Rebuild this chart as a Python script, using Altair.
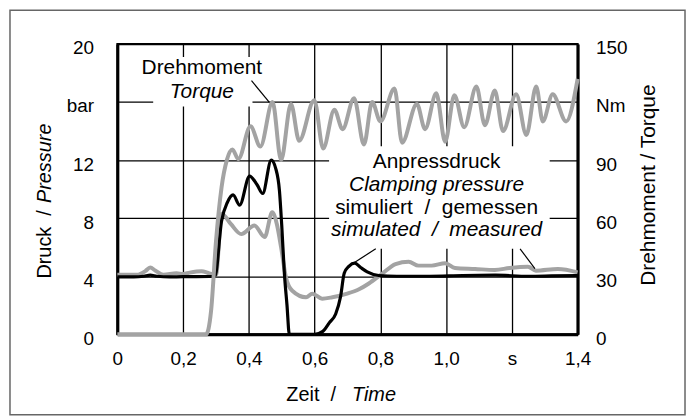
import altair as alt
import pandas as pd

FONT = "Liberation Sans"
NB = "\u00a0"

# ---- data ----
# simulated clamping pressure (bar)
sim_t = [0.0, 0.05, 0.08, 0.10, 0.12, 0.16, 0.20, 0.24, 0.28, 0.297, 0.317, 0.335, 0.352, 0.372,
         0.402, 0.425, 0.442, 0.468, 0.482, 0.493, 0.50, 0.508, 0.516, 0.523, 0.60, 0.625, 0.645,
         0.664, 0.679, 0.69, 0.705, 0.722, 0.74, 0.76, 0.795, 0.85, 0.95, 1.05, 1.15, 1.25, 1.32, 1.4]
sim_p = [3.95, 3.95, 4.0, 4.08, 4.0, 3.95, 3.97, 3.97, 3.98, 4.0, 7.8, 9.1, 9.6, 8.9,
         10.9, 10.3, 9.7, 12.0, 11.4, 9.9, 7.5, 4.2, 2.0, 0.0, 0.0, 0.2, 0.8,
         1.4, 2.6, 4.2, 4.7, 4.9, 4.6, 4.3, 4.05, 4.0, 4.0, 4.05, 4.07, 4.0, 4.02, 4.05]

# measured clamping pressure (bar)
meas_t = [0.0, 0.06, 0.085, 0.10, 0.115, 0.14, 0.18, 0.20, 0.22, 0.256, 0.28, 0.30, 0.317, 0.345,
          0.377, 0.417, 0.448, 0.471, 0.485, 0.498, 0.513, 0.532, 0.574, 0.593, 0.623, 0.654,
          0.699, 0.735, 0.765, 0.805, 0.846, 0.886, 0.916, 0.956, 0.997, 1.027, 1.088, 1.148,
          1.193, 1.249, 1.273, 1.34, 1.4]
meas_p = [4.1, 4.1, 4.35, 4.6, 4.4, 4.1, 4.2, 4.15, 4.25, 4.35, 4.2, 4.1, 8.3, 7.6,
          6.9, 7.5, 6.7, 8.4, 7.6, 6.0, 3.9, 3.0, 2.55, 2.8, 2.45, 2.55,
          2.8, 3.1, 3.5, 4.17, 4.84, 5.0, 4.73, 4.73, 4.9, 4.57, 4.5, 4.43,
          4.57, 4.66, 4.38, 4.5, 4.27]

# measured torque (Nm)
torque_t = [0.0, 0.27, 0.285, 0.30, 0.317, 0.333, 0.35, 0.368, 0.405, 0.435, 0.472, 0.498, 0.528,
            0.553, 0.599, 0.626, 0.66, 0.685, 0.72, 0.75, 0.775, 0.80, 0.843, 0.866, 0.911,
            0.936, 0.970, 0.997, 1.025, 1.055, 1.092, 1.118, 1.148, 1.173, 1.213, 1.244,
            1.274, 1.294, 1.324, 1.365, 1.40]
torque_v = [0.0, 0.0, 12.0, 48.0, 76.0, 90.0, 95.5, 90.5, 107.5, 97.0, 120.0, 90.0, 119.0,
            100.0, 121.0, 96.0, 116.0, 106.0, 122.0, 98.0, 120.0, 110.0, 127.0, 99.0, 119.0,
            106.0, 124.5, 99.5, 123.5, 107.0, 128.0, 108.0, 126.0, 105.0, 124.0, 103.0,
            128.0, 110.0, 124.0, 110.0, 132.0]

# axes
x_ticks = [0, 0.2, 0.4, 0.6, 0.8, 1.0, 1.2, 1.4]
x_labels = ["0", "0,2", "0,4", "0,6", "0,8", "1,0", "s", "1,4"]
p_ticks = [0, 4, 8, 12, 16, 20]
p_labels = ["0", "4", "8", "12", "bar", "20"]
t_ticks = [0, 30, 60, 90, 120, 150]
t_labels = ["0", "30", "60", "90", "Nm", "150"]

# annotations
ann_regular = ["Drehmoment", "Anpressdruck", "simuliert" + NB + " / " + NB + "gemessen"]
ann_regular_t = [0.257, 0.971, 0.971]
ann_regular_p = [18.36, 11.85, 8.70]
ann_italic = ["Torque", "Clamping pressure", "simulated" + NB + " / " + NB + "measured"]
ann_italic_t = [0.257, 0.971, 0.971]
ann_italic_p = [16.71, 10.27, 7.19]

leader_t0 = [0.408, 0.786, 1.225]
leader_p0 = [17.47, 5.89, 5.89]
leader_t1 = [0.463, 0.720, 1.270]
leader_p1 = [15.96, 4.93, 4.52]

box_t0 = [0.109, 0.644]
box_t1 = [0.411, 1.315]
box_p0 = [15.7, 5.9]
box_p1 = [19.1, 12.95]

# ---- frames ----
sim_df = pd.DataFrame({"t": sim_t, "p": sim_p})
meas_df = pd.DataFrame({"t": meas_t, "p": meas_p})
torque_df = pd.DataFrame({"t": torque_t, "v": torque_v})
reg_df = pd.DataFrame({"t": ann_regular_t, "p": ann_regular_p, "label": ann_regular})
ita_df = pd.DataFrame({"t": ann_italic_t, "p": ann_italic_p, "label": ann_italic})
lead_df = pd.DataFrame({"t0": leader_t0, "p0": leader_p0, "t1": leader_t1, "p1": leader_p1})
box_df = pd.DataFrame({"t0": box_t0, "t1": box_t1, "p0": box_p0, "p1": box_p1})
one = pd.DataFrame({"a": [0]})


def arr(labels):
    return "[" + ",".join("'" + s + "'" for s in labels) + "]"


xscale = alt.Scale(domain=[0, 1.4], nice=False, zero=False)
pscale = alt.Scale(domain=[0, 20], nice=False)
tscale = alt.Scale(domain=[0, 150], nice=False)

x_axis = alt.Axis(values=x_ticks, labelExpr=arr(x_labels) + "[round(datum.value*5)]",
                  grid=True, gridColor="black", gridWidth=1.3, domainColor="black",
                  domainWidth=3, ticks=False, labelPadding=15, labelFontSize=19,
                  labelFont=FONT, labelColor="black", title=None, labelFlush=False,
                  labelOverlap=False)
p_axis = alt.Axis(values=p_ticks, labelExpr=arr(p_labels) + "[round(datum.value/4)]",
                  orient="left", grid=True, gridColor="black", gridWidth=1.3,
                  domainColor="black", domainWidth=3, ticks=False, labelPadding=24,
                  labelFontSize=19, labelFont=FONT, labelColor="black", title=None,
                  labelOffset=4, labelOverlap=False)
t_axis = alt.Axis(values=t_ticks, labelExpr=arr(t_labels) + "[round(datum.value/30)]",
                  orient="right", grid=False, domainColor="black", domainWidth=3,
                  ticks=False, labelPadding=18, labelFontSize=19, labelFont=FONT,
                  labelColor="black", title=None, labelOffset=4, labelOverlap=False)

X = lambda f: alt.X(f, type="quantitative", scale=xscale, axis=x_axis)
Y = lambda f: alt.Y(f, type="quantitative", scale=pscale, axis=p_axis)

frame = alt.Chart(one).mark_rect(filled=False, color="#666666", strokeWidth=1.5).encode(
    x=alt.value(-108), x2=alt.value(571), y=alt.value(-34), y2=alt.value(373))

boxes = alt.Chart(box_df).mark_rect(color="white").encode(
    x=X("t0"), x2="t1", y=Y("p0"), y2="p1")

meas = alt.Chart(meas_df).mark_line(color="#a3a3a3", strokeWidth=4, interpolate="monotone").encode(
    x=X("t"), y=Y("p"))
sim = alt.Chart(sim_df).mark_line(color="black", strokeWidth=3.2, interpolate="monotone").encode(
    x=X("t"), y=Y("p"))

reg_text = alt.Chart(reg_df).mark_text(font=FONT, fontSize=21, color="black", baseline="middle").encode(
    x=X("t"), y=Y("p"), text="label:N")
ita_text = alt.Chart(ita_df).mark_text(font=FONT, fontSize=21, fontStyle="italic", color="black",
                                       baseline="middle").encode(
    x=X("t"), y=Y("p"), text="label:N")

leaders = alt.Chart(lead_df).mark_rule(color="black", strokeWidth=1.2).encode(
    x=X("t0"), y=Y("p0"), x2="t1", y2="p1")


def title_text(txt, x, y, angle=0, italic=False, align="left", size=20):
    kw = dict(font=FONT, fontSize=size, color="black", baseline="middle", align=align)
    if angle:
        kw["angle"] = angle
    if italic:
        kw["fontStyle"] = "italic"
    return alt.Chart(one).mark_text(**kw).encode(x=alt.value(x), y=alt.value(y), text=alt.value(txt))


titles = [
    title_text("Druck" + NB + " /", -73, 236, angle=270),
    title_text("Pressure", -73, 160, angle=270, italic=True),
    title_text("Zeit" + NB + " /", 170, 353),
    title_text("Time", 236, 353, italic=True),
    title_text("Drehmoment / Torque", 535, 142, angle=270, align="center", size=21),
]

pressure_layer = alt.layer(frame, boxes, meas, sim, reg_text, ita_text, leaders, *titles)

torque = alt.Chart(torque_df).mark_line(color="#a3a3a3", strokeWidth=4, interpolate="monotone").encode(
    x=X("t"), y=alt.Y("v", type="quantitative", scale=tscale, axis=t_axis))

chart = alt.layer(pressure_layer, torque).resolve_scale(y="independent").properties(
    width=463, height=292, padding={"left": 1, "top": 0, "right": 0, "bottom": 0},
    background="white",
).configure_view(stroke="black", strokeWidth=2)

chart.save("out.html", embed_options={"renderer": "svg", "actions": False})
